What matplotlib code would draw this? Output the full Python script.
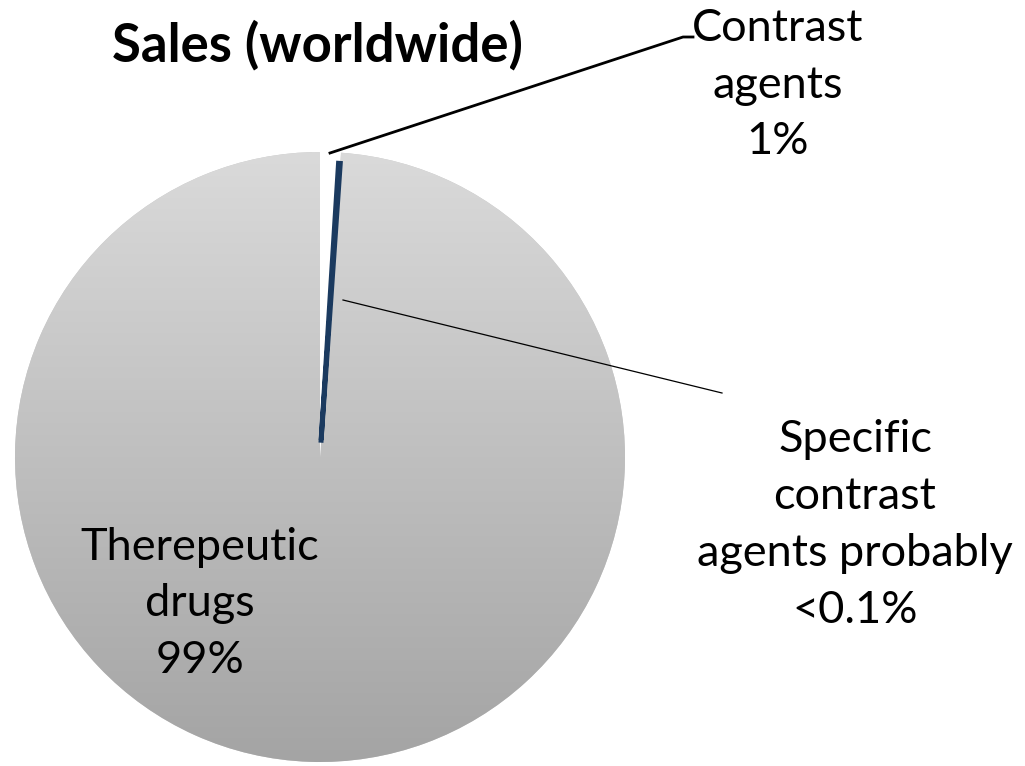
import numpy as np
import matplotlib
matplotlib.use("Agg")
import matplotlib.pyplot as plt
from matplotlib.colors import LinearSegmentedColormap

categories = ["Contrast\nagents", "Specific\ncontrast\nagents probably", "Therepeutic\ndrugs"]
values = [1.0, 0.1, 98.9]
pct_labels = ["1%", "<0.1%", "99%"]
title = "Sales (worldwide)"

W, H = 1025, 766
fig = plt.figure(figsize=(W / 100, H / 100), dpi=100)
ax = fig.add_axes([0, 0, 1, 1])

font = "Lato"
cx, cy, R = 320, 766 - 457, 305

wedges, _ = ax.pie(values, colors=["white", "#1b3a5f", "#c8c8c8"], startangle=90,
                   counterclock=False, center=(cx, cy), radius=R, frame=True,
                   wedgeprops=dict(linewidth=0))
ax.set_xlim(0, W)
ax.set_ylim(0, H)
ax.set_aspect("equal")
ax.axis("off")

# gradient on therapeutic wedge
grad = np.linspace(0, 1, 256).reshape(-1, 1)
cmap = LinearSegmentedColormap.from_list("g", ["#a4a4a4", "#dadada"])
im = ax.imshow(grad, cmap=cmap, extent=(cx - R, cx + R, cy - R, cy + R),
               origin="lower", aspect="auto", zorder=2)
im.set_clip_path(wedges[2])

# specific slice drawn as a thin ring sliver
w = wedges[1]
w.set_radius(0.965 * R)
w.set_width(0.91 * R)
w.set_edgecolor("#1b3a5f")
w.set_linewidth(3.5)
w.set_zorder(3)

wedges[0].set_zorder(3)

ax.text(318, 766 - 45, title, ha="center", va="center", fontsize=38,
        fontweight="bold", family=font)

kw = dict(ha="center", va="center", fontsize=32.5, family=font, linespacing=1.48, zorder=5)
ax.text(778, 766 - 85, categories[0] + "\n" + pct_labels[0], **kw)
ax.text(855, 766 - 525, categories[1] + "\n" + pct_labels[1], **kw)
ax.text(200, 766 - 604, categories[2] + "\n" + pct_labels[2], **kw)

# leader lines
ax.plot([330, 683, 693], [766 - 153, 766 - 37, 766 - 37], color="black", lw=2, zorder=6)
ax.plot([343, 722], [766 - 300, 766 - 393], color="black", lw=0.9, zorder=6)

fig.savefig("out.png", dpi=100)
